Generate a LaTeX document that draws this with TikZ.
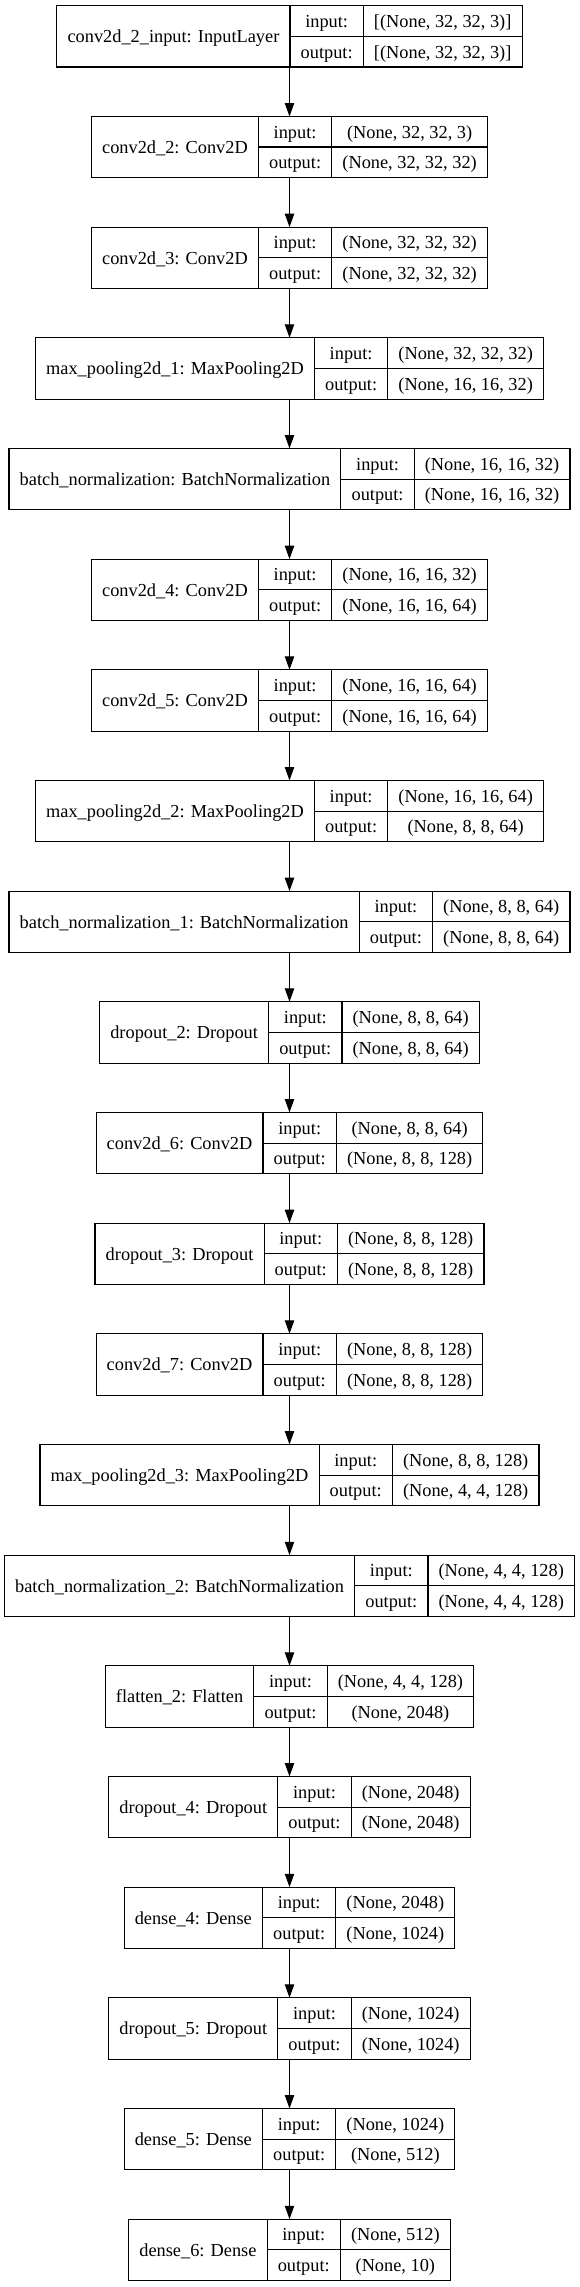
\documentclass[tikz,border=0pt]{standalone}
\usepackage{fontspec}
\setmainfont{Liberation Serif}
\usetikzlibrary{arrows.meta}
\newcommand\lfont{\fontsize{13.75}{16.5}\selectfont}
\newlength\LwN \newlength\LwIO \newlength\LwV \newlength\LwVb
\newsavebox\Lbox
\tikzset{
 cell/.style={draw=black, line width=0.85pt, inner sep=0pt, outer sep=0pt, font=\lfont,
   minimum height=23pt, text height=11.5pt, text depth=2pt, anchor=north west},
 namecell/.style={cell, minimum height=46pt},
 layerbox/.style={inner sep=0pt, outer sep=0pt, minimum height=46pt, anchor=north},
 flow/.style={-{Triangle[length=10pt,width=7pt]}, line width=0.85pt}
}
% #1 id, #2 label, #3 input shape, #4 output shape, #5 row index
\newcommand\layer[5]{%
 \pgfinterruptpicture
  \sbox\Lbox{\normalfont\lfont #2}\global\LwN=\wd\Lbox
  \sbox\Lbox{\normalfont\lfont #3}\global\LwV=\wd\Lbox
  \sbox\Lbox{\normalfont\lfont #4}\global\LwVb=\wd\Lbox
  \sbox\Lbox{\normalfont\lfont output:}\global\LwIO=\wd\Lbox
 \endpgfinterruptpicture
 \ifdim\LwVb>\LwV \LwV=\LwVb\fi
 \addtolength\LwV{16pt}\addtolength\LwN{16pt}\addtolength\LwIO{16pt}%
 \pgfmathsetmacro\Ltop{-(4.3+83*#5)}%
 \pgfmathsetmacro\Ltot{\LwN+\LwIO+\LwV}%
 \pgfmathsetmacro\Lleft{217.125-\Ltot/2}%
 \node[layerbox, minimum width=\Ltot pt] (#1) at (217.125pt,\Ltop pt) {};
 \node[namecell, minimum width=\LwN] (#1-n) at (\Lleft pt,\Ltop pt) {#2};
 \node[cell, minimum width=\LwIO] (#1-il) at (#1-n.north east) {input:};
 \node[cell, minimum width=\LwIO] (#1-ol) at (#1-il.south west) {output:};
 \node[cell, minimum width=\LwV] (#1-iv) at (#1-il.north east) {#3};
 \node[cell, minimum width=\LwV] (#1-ov) at (#1-iv.south west) {#4};
}
\begin{document}
\begin{tikzpicture}
\fill[white] (0,0) rectangle (434.25pt,-1715.25pt);
\useasboundingbox (0,0) rectangle (434.25pt,-1715.25pt);
\layer{l0}{conv2d\_2\_input: InputLayer}{[(None, 32, 32, 3)]}{[(None, 32, 32, 3)]}{0}
\layer{l1}{conv2d\_2: Conv2D}{(None, 32, 32, 3)}{(None, 32, 32, 32)}{1}
\layer{l2}{conv2d\_3: Conv2D}{(None, 32, 32, 32)}{(None, 32, 32, 32)}{2}
\layer{l3}{max\_pooling2d\_1: MaxPooling2D}{(None, 32, 32, 32)}{(None, 16, 16, 32)}{3}
\layer{l4}{batch\_normalization: BatchNormalization}{(None, 16, 16, 32)}{(None, 16, 16, 32)}{4}
\layer{l5}{conv2d\_4: Conv2D}{(None, 16, 16, 32)}{(None, 16, 16, 64)}{5}
\layer{l6}{conv2d\_5: Conv2D}{(None, 16, 16, 64)}{(None, 16, 16, 64)}{6}
\layer{l7}{max\_pooling2d\_2: MaxPooling2D}{(None, 16, 16, 64)}{(None, 8, 8, 64)}{7}
\layer{l8}{batch\_normalization\_1: BatchNormalization}{(None, 8, 8, 64)}{(None, 8, 8, 64)}{8}
\layer{l9}{dropout\_2: Dropout}{(None, 8, 8, 64)}{(None, 8, 8, 64)}{9}
\layer{l10}{conv2d\_6: Conv2D}{(None, 8, 8, 64)}{(None, 8, 8, 128)}{10}
\layer{l11}{dropout\_3: Dropout}{(None, 8, 8, 128)}{(None, 8, 8, 128)}{11}
\layer{l12}{conv2d\_7: Conv2D}{(None, 8, 8, 128)}{(None, 8, 8, 128)}{12}
\layer{l13}{max\_pooling2d\_3: MaxPooling2D}{(None, 8, 8, 128)}{(None, 4, 4, 128)}{13}
\layer{l14}{batch\_normalization\_2: BatchNormalization}{(None, 4, 4, 128)}{(None, 4, 4, 128)}{14}
\layer{l15}{flatten\_2: Flatten}{(None, 4, 4, 128)}{(None, 2048)}{15}
\layer{l16}{dropout\_4: Dropout}{(None, 2048)}{(None, 2048)}{16}
\layer{l17}{dense\_4: Dense}{(None, 2048)}{(None, 1024)}{17}
\layer{l18}{dropout\_5: Dropout}{(None, 1024)}{(None, 1024)}{18}
\layer{l19}{dense\_5: Dense}{(None, 1024)}{(None, 512)}{19}
\layer{l20}{dense\_6: Dense}{(None, 512)}{(None, 10)}{20}
\foreach \a/\b in {0/1,1/2,2/3,3/4,4/5,5/6,6/7,7/8,8/9,9/10,10/11,11/12,12/13,13/14,14/15,15/16,16/17,17/18,18/19,19/20}
  \draw[flow] (l\a.south) -- (l\b.north);
\end{tikzpicture}
\end{document}
